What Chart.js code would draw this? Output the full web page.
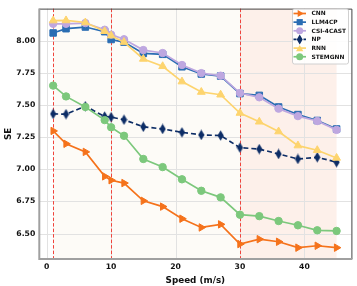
<!DOCTYPE html>
<html>
<head>
<meta charset="utf-8">
<script src="https://cdn.jsdelivr.net/npm/chart.js@4/dist/chart.umd.min.js"></script>
<style>
  html, body { margin: 0; padding: 0; background: #ffffff; }
  #wrap { width: 357px; height: 286px; position: relative; }
</style>
</head>
<body>
<div id="wrap"><canvas id="c" width="357" height="286"></canvas></div>
<script>
const speeds = [1, 3, 6, 9, 10, 12, 15, 18, 21, 24, 27, 30, 33, 36, 39, 42, 45];
const seriesNames = ['CNN', 'LLM4CP', 'CSI-4CAST', 'NP', 'RNN', 'STEMGNN'];
const cnn      = [7.298, 7.198, 7.135, 6.945, 6.915, 6.893, 6.755, 6.710, 6.616, 6.548, 6.572, 6.419, 6.457, 6.437, 6.391, 6.406, 6.391];
const llm4cp   = [8.059, 8.092, 8.105, 8.069, 8.008, 7.988, 7.900, 7.893, 7.796, 7.740, 7.724, 7.588, 7.574, 7.484, 7.425, 7.379, 7.313];
const csi4cast = [8.130, 8.130, 8.136, 8.084, 8.046, 8.010, 7.926, 7.903, 7.810, 7.747, 7.727, 7.592, 7.559, 7.471, 7.413, 7.375, 7.306];
const np       = [7.430, 7.428, 7.490, 7.410, 7.405, 7.385, 7.330, 7.313, 7.287, 7.267, 7.262, 7.168, 7.157, 7.119, 7.080, 7.093, 7.055];
const rnn      = [8.155, 8.156, 8.140, 8.072, 8.038, 7.988, 7.857, 7.800, 7.681, 7.600, 7.579, 7.437, 7.369, 7.293, 7.184, 7.148, 7.088];
const stemgnn  = [7.650, 7.566, 7.484, 7.382, 7.326, 7.260, 7.080, 7.017, 6.922, 6.833, 6.782, 6.647, 6.636, 6.598, 6.565, 6.526, 6.521];
const xTicks = [0, 10, 20, 30, 40];
const yTicks = [6.50, 6.75, 7.00, 7.25, 7.50, 7.75, 8.00];
const markerLines = [1, 10, 30];
const regions = [[1, 30, '#fdfbf7'], [30, 45, '#fdf0ea']];

const FONT = 'DejaVu Sans';

// thin diamond marker (matplotlib 'd')
function thinDiamond(color) {
  const c = document.createElement('canvas');
  c.width = 7; c.height = 11;
  const g = c.getContext('2d');
  g.fillStyle = color;
  g.beginPath();
  g.moveTo(3.5, 0.3); g.lineTo(6.6, 5.5); g.lineTo(3.5, 10.7); g.lineTo(0.4, 5.5);
  g.closePath(); g.fill();
  return c;
}

const styles = [
  { color: '#f5721b', point: 'triangle', rot: 90, r: 4.3, dash: [] },
  { color: '#2a6db3', point: 'rect', rot: 0, r: 4.6, dash: [] },
  { color: '#bea7e0', point: 'circle', rot: 0, r: 3.7, dash: [] },
  { color: '#0d2d66', point: thinDiamond('#0d2d66'), rot: 0, r: 4, dash: [5, 3] },
  { color: '#fdd46e', point: 'triangle', rot: 0, r: 4.5, dash: [] },
  { color: '#7cc87c', point: 'circle', rot: 0, r: 3.7, dash: [] },
];
const values = [cnn, llm4cp, csi4cast, np, rnn, stemgnn];

const datasets = seriesNames.map((name, i) => ({
  label: name,
  data: speeds.map((s, k) => ({ x: s, y: values[i][k] })),
  borderColor: styles[i].color,
  backgroundColor: styles[i].color,
  pointBackgroundColor: styles[i].color,
  pointBorderColor: styles[i].color,
  pointBorderWidth: 1,
  pointStyle: styles[i].point,
  pointRotation: styles[i].rot,
  pointRadius: styles[i].r,
  borderWidth: 1.7,
  borderDash: styles[i].dash,
  tension: 0,
  order: seriesNames.length - i,
}));

const bgPlugin = {
  id: 'bg',
  beforeDatasetsDraw(chart) {
    const { ctx, chartArea: a, scales: { x } } = chart;
    ctx.save();
    regions.forEach(([x0, x1, col]) => {
      const p0 = x.getPixelForValue(x0), p1 = x.getPixelForValue(x1);
      ctx.fillStyle = col;
      ctx.fillRect(p0, a.top, p1 - p0, a.bottom - a.top);
    });
    ctx.strokeStyle = '#e2e2e2'; ctx.lineWidth = 1;
    xTicks.forEach(v => { const p = Math.round(x.getPixelForValue(v)) + 0.5; ctx.beginPath(); ctx.moveTo(p, a.top); ctx.lineTo(p, a.bottom); ctx.stroke(); });
    const y = chart.scales.y;
    yTicks.forEach(v => { const p = Math.round(y.getPixelForValue(v)) + 0.5; ctx.beginPath(); ctx.moveTo(a.left, p); ctx.lineTo(a.right, p); ctx.stroke(); });
    ctx.strokeStyle = '#f0443c'; ctx.lineWidth = 1; ctx.setLineDash([3.5, 2]);
    markerLines.forEach(v => {
      const p = Math.round(x.getPixelForValue(v)) + 0.5;
      ctx.beginPath(); ctx.moveTo(p, a.top); ctx.lineTo(p, a.bottom); ctx.stroke();
    });
    ctx.restore();
  },
  afterDraw(chart) {
    const { ctx, chartArea: a } = chart;
    ctx.save();
    ctx.strokeStyle = '#444'; ctx.lineWidth = 1;
    ctx.beginPath(); ctx.moveTo(a.left, a.top + 0.5); ctx.lineTo(a.right + 0.5, a.top + 0.5); ctx.lineTo(a.right + 0.5, a.bottom); ctx.stroke();
    ctx.strokeStyle = '#a0a0a0'; ctx.lineWidth = 2;
    ctx.beginPath(); ctx.moveTo(a.left, a.top); ctx.lineTo(a.left, a.bottom); ctx.lineTo(a.right + 1, a.bottom); ctx.stroke();

    // legend
    const lx = 292, ly = 8.5, lw = 56, lh = 55;
    ctx.fillStyle = 'rgba(255,255,255,0.9)';
    ctx.strokeStyle = '#d0d0d0'; ctx.lineWidth = 1;
    ctx.beginPath();
    if (ctx.roundRect) ctx.roundRect(lx + 0.5, ly + 0.5, lw, lh, 2); else ctx.rect(lx + 0.5, ly + 0.5, lw, lh);
    ctx.fill(); ctx.stroke();
    chart.data.datasets.forEach((ds, i) => {
      const yy = 13.5 + i * 8.65;
      const st = styles[i];
      ctx.strokeStyle = st.color; ctx.lineWidth = 1.7;
      ctx.setLineDash(st.dash.length ? [3, 2] : []);
      ctx.beginPath(); ctx.moveTo(293.5, yy); ctx.lineTo(306, yy); ctx.stroke();
      ctx.setLineDash([]);
      ctx.fillStyle = st.color;
      const cx = 299.7, r = st.r * 0.95;
      ctx.beginPath();
      if (st.point === 'circle') { ctx.arc(cx, yy, r, 0, Math.PI * 2); }
      else if (st.point === 'rect') { const s = r * Math.SQRT1_2; ctx.rect(cx - s, yy - s, 2 * s, 2 * s); }
      else if (st.point === 'triangle') {
        const ang = st.rot * Math.PI / 180;
        for (let k = 0; k < 3; k++) {
          const t = ang - Math.PI / 2 + k * 2 * Math.PI / 3;
          const px = cx + r * Math.cos(t), py = yy + r * 1.0 * Math.sin(t) + (st.rot ? 0 : r * 0.25);
          if (k === 0) ctx.moveTo(px, py); else ctx.lineTo(px, py);
        }
        ctx.closePath();
      } else { ctx.moveTo(cx, yy - 5); ctx.lineTo(cx + 3, yy); ctx.lineTo(cx, yy + 5); ctx.lineTo(cx - 3, yy); ctx.closePath(); }
      ctx.fill();
      ctx.fillStyle = '#111';
      ctx.font = 'bold 5.9px "' + FONT + '"';
      ctx.textBaseline = 'middle'; ctx.textAlign = 'left';
      ctx.fillText(ds.label, 311.5, yy + 0.3);
    });
    ctx.restore();
  }
};

new Chart(document.getElementById('c'), {
  type: 'line',
  data: { datasets },
  options: {
    responsive: false,
    animation: false,
    devicePixelRatio: 1,
    layout: { padding: { top: 5, right: 5, left: 0, bottom: 0 } },
    plugins: { legend: { display: false }, tooltip: { enabled: false } },
    scales: {
      x: {
        type: 'linear', min: -1.15, max: 47.3,
        afterBuildTicks: s => { s.ticks = xTicks.map(v => ({ value: v })); },
        afterFit: s => { s.height = 27; },
        grid: { display: false, drawTicks: false },
        border: { display: false },
        ticks: { color: '#111', font: { family: FONT, weight: 'bold', size: 7.7 }, padding: 3, maxRotation: 0 },
        title: { display: true, text: 'Speed (m/s)', color: '#111', font: { family: FONT, weight: 'bold', size: 8.8 }, padding: { top: -1, bottom: 0 } },
      },
      y: {
        type: 'linear', min: 6.303, max: 8.248,
        afterBuildTicks: s => { s.ticks = yTicks.map(v => ({ value: v })); },
        afterFit: s => { s.width = 39.3; },
        grid: { display: false, drawTicks: false },
        border: { display: false },
        ticks: { color: '#111', font: { family: FONT, weight: 'bold', size: 7.7 }, padding: 4, callback: v => v.toFixed(2) },
        title: { display: true, text: 'SE', color: '#111', font: { family: FONT, weight: 'bold', size: 8.8 }, padding: { top: 3, bottom: 0 } },
      },
    },
  },
  plugins: [bgPlugin],
});
</script>
</body>
</html>
